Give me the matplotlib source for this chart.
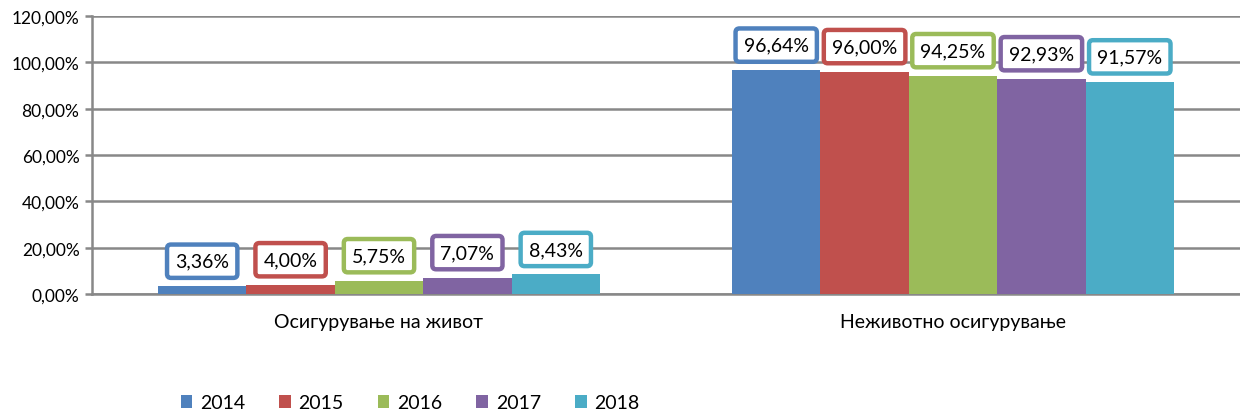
import numpy as np
import matplotlib.pyplot as plt

plt.rcParams['font.family'] = ['Lato', 'DejaVu Sans']

categories = ['Осигурување на живот', 'Неживотно осигурување']
years = ['2014', '2015', '2016', '2017', '2018']
life = [3.36, 4.00, 5.75, 7.07, 8.43]
nonlife = [96.64, 96.00, 94.25, 92.93, 91.57]
colors = ['#4F81BD', '#C0504D', '#9BBB59', '#8064A2', '#4BACC6']
yticks = [0, 20, 40, 60, 80, 100, 120]


def fmt(v):
    return f"{v:.2f}".replace('.', ',') + '%'


def main():
    fig = plt.figure(figsize=(12.4, 4.14), dpi=100)
    ax = fig.add_axes([92 / 1240, 119 / 414, 1148 / 1240, 278 / 414])

    x = np.arange(len(categories))
    w = 0.154
    for i, yr in enumerate(years):
        vals = [life[i], nonlife[i]]
        pos = x + (i - 2) * w
        ax.bar(pos, vals, w, color=colors[i], label=yr, zorder=3)
        for p, v in zip(pos, vals):
            ax.annotate(fmt(v), (p, v), xytext=(0, 18), textcoords='offset points',
                        ha='center', va='center', fontsize=14, zorder=5,
                        bbox=dict(boxstyle='round,pad=0.42,rounding_size=0.2',
                                  fc='white', ec=colors[i], lw=3.2))

    ax.set_xlim(-0.5, 1.5)
    ax.set_ylim(0, 120)
    ax.set_yticks(yticks)
    ax.set_yticklabels([fmt(t) for t in yticks], fontsize=12.5)
    ax.set_xticks(x)
    ax.set_xticklabels(categories, fontsize=14)
    ax.tick_params(axis='x', length=0, pad=14)
    ax.tick_params(axis='y', length=5, width=1.8, color='#888888', pad=4)
    ax.grid(axis='y', color='#888888', lw=1.8, zorder=0)
    for s in ['top', 'right']:
        ax.spines[s].set_visible(False)
    for s in ['left', 'bottom']:
        ax.spines[s].set_color('#888888')
        ax.spines[s].set_linewidth(1.8)

    fig.legend(loc='center left', bbox_to_anchor=(163 / 1240, 1 - 404 / 414), ncol=5,
               frameon=False, fontsize=14, handlelength=0.6, handleheight=0.6,
               columnspacing=1.75, handletextpad=0.4)
    fig.savefig('out.png', dpi=100)


if __name__ == "__main__":
    main()
